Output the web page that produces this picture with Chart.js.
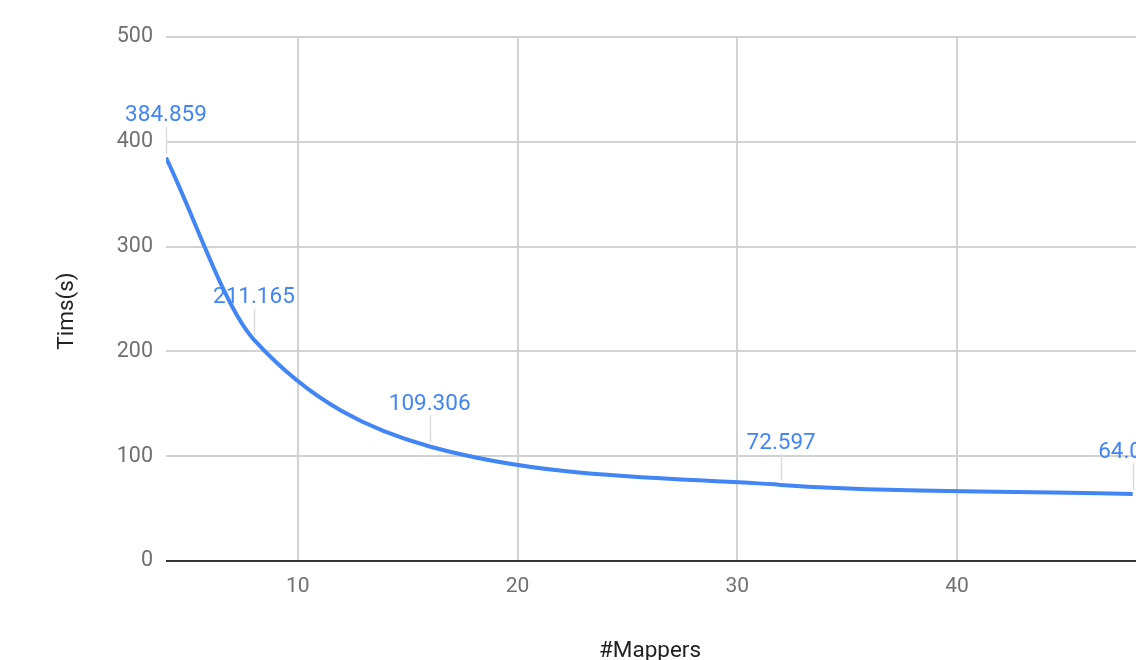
<!DOCTYPE html>
<html>
<head>
<meta charset="utf-8">
<script src="https://cdn.jsdelivr.net/npm/chart.js@4/dist/chart.umd.min.js"></script>
<style>
  html, body { margin: 0; padding: 0; background: #fff; }
  #wrap { width: 1136px; height: 660px; }
</style>
</head>
<body>
<div id="wrap"><canvas id="c" width="1136" height="660"></canvas></div>
<script>
// Run time against number of mappers
const mappers = [4, 8, 16, 32, 48];
const times = [384.859, 211.165, 109.306, 72.597, 64.032];
const xTicks = [10, 20, 30, 40];
const yTicks = [0, 100, 200, 300, 400, 500];
const xTitle = '#Mappers';
const yTitle = 'Tims(s)';

const BLUE = '#4285f4';
const FONT = 'Roboto, "Noto Sans", sans-serif';

// Smooth "function" curve: Catmull-Rom style tangents computed in data space,
// turned into bezier control points through the chart's own scales.
const smoothCurve = {
  id: 'smoothCurve',
  beforeDatasetDraw(chart, args) {
    const meta = args.meta;
    const line = meta.dataset;
    if (!line) return;
    line.updateControlPoints(chart.chartArea, 'x');
    const xs = chart.scales.x, ys = chart.scales.y;
    const n = mappers.length;
    const slope = i => {
      if (i === 0) return (times[1] - times[0]) / (mappers[1] - mappers[0]);
      if (i === n - 1) return (times[n - 1] - times[n - 2]) / (mappers[n - 1] - mappers[n - 2]);
      return (times[i + 1] - times[i - 1]) / (mappers[i + 1] - mappers[i - 1]);
    };
    meta.data.forEach((pt, i) => {
      const m = slope(i);
      if (i > 0) {
        const h = (mappers[i] - mappers[i - 1]) / 3;
        pt.cp1x = xs.getPixelForValue(mappers[i] - h);
        pt.cp1y = ys.getPixelForValue(times[i] - m * h);
      } else {
        pt.cp1x = pt.x; pt.cp1y = pt.y;
      }
      if (i < n - 1) {
        const h = (mappers[i + 1] - mappers[i]) / 3;
        pt.cp2x = xs.getPixelForValue(mappers[i] + h);
        pt.cp2y = ys.getPixelForValue(times[i] + m * h);
      } else {
        pt.cp2x = pt.x; pt.cp2y = pt.y;
      }
    });
    line._path = undefined;
  }
};

// Value annotations: text above each point with a thin stem down to it
const annotations = {
  id: 'annotations',
  afterDatasetsDraw(chart) {
    const ctx = chart.ctx;
    const meta = chart.getDatasetMeta(0);
    ctx.save();
    meta.data.forEach((pt, i) => {
      ctx.strokeStyle = '#dddddd';
      ctx.lineWidth = 1.5;
      ctx.beginPath();
      ctx.moveTo(Math.round(pt.x) + 0.5, pt.y - 31);
      ctx.lineTo(Math.round(pt.x) + 0.5, pt.y - 4);
      ctx.stroke();
      ctx.fillStyle = BLUE;
      ctx.font = '22.5px ' + FONT;
      ctx.textAlign = 'center';
      ctx.textBaseline = 'middle';
      ctx.fillText(String(times[i]), pt.x, pt.y - 42);
    });
    ctx.restore();
  }
};

// Axis titles
const axisTitles = {
  id: 'axisTitles',
  afterDraw(chart) {
    const ctx = chart.ctx;
    ctx.save();
    ctx.fillStyle = '#222';
    ctx.font = '22.5px ' + FONT;
    ctx.textAlign = 'center';
    ctx.textBaseline = 'middle';
    ctx.fillText(xTitle, 650, 651);
    ctx.translate(67, 311);
    ctx.rotate(-Math.PI / 2);
    ctx.fillText(yTitle, 0, 0);
    ctx.restore();
  }
};

new Chart(document.getElementById('c'), {
  type: 'line',
  data: {
    datasets: [{
      data: mappers.map((m, i) => ({ x: m, y: times[i] })),
      borderColor: BLUE,
      borderWidth: 4,
      pointRadius: 0,
      fill: false,
      tension: 0.4,
      capBezierPoints: false
    }]
  },
  options: {
    responsive: false,
    devicePixelRatio: 1,
    animation: false,
    layout: { padding: { top: 37, right: 0, left: 0, bottom: 0 } },
    plugins: { legend: { display: false }, tooltip: { enabled: false } },
    scales: {
      x: {
        type: 'linear',
        min: 4,
        max: 48.15,
        afterBuildTicks(scale) { scale.ticks = xTicks.map(v => ({ value: v })); },
        afterFit(scale) { scale.height = 99; },
        border: { display: false },
        grid: { color: '#d2d2d2', lineWidth: 2, drawTicks: false },
        ticks: {
          color: '#707070',
          font: { family: FONT, size: 21 },
          padding: 13,
          maxRotation: 0
        }
      },
      y: {
        min: 0,
        max: 500,
        afterBuildTicks(scale) { scale.ticks = yTicks.map(v => ({ value: v })); },
        afterFit(scale) { scale.width = 166; },
        border: { display: false },
        grid: {
          color: ctx => (ctx.tick && ctx.tick.value === 0 ? '#333333' : '#d2d2d2'),
          lineWidth: 2,
          drawTicks: false
        },
        ticks: {
          color: '#707070',
          font: { family: FONT, size: 21.5 },
          padding: 13
        }
      }
    }
  },
  plugins: [smoothCurve, annotations, axisTitles]
});
</script>
</body>
</html>
